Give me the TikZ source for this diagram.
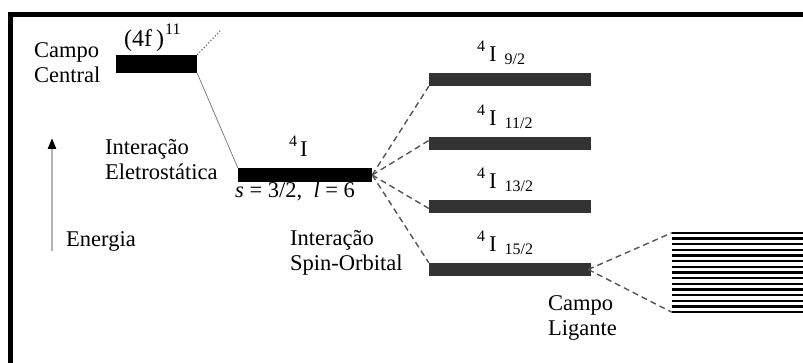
\documentclass[tikz,border=0pt]{standalone}
\usepackage{fontspec}
\setmainfont{Liberation Serif}
\usetikzlibrary{arrows.meta}
\definecolor{bargray}{HTML}{333333}
\definecolor{dashgray}{HTML}{555555}
\newcommand{\smallfnt}{\fontsize{16}{16}\selectfont}
\newcommand{\lvl}[1]{{\smallfnt\raisebox{10pt}{4}}\hspace{4pt}I\hspace{8pt}{\smallfnt\raisebox{-3pt}{#1}}}
\begin{document}
\begin{tikzpicture}[x=1pt,y=-1pt,
  lbl/.style={font=\fontsize{22.5}{25}\selectfont, inner sep=0pt, align=left},
  blackbar/.style={fill=black, draw=none, inner sep=0pt},
  graybar/.style={fill=bargray, draw=none, inner sep=0pt, minimum width=162pt, minimum height=13pt},
  dashline/.style={draw=dashgray, dashed, dash pattern=on 6pt off 4pt, line width=1.4pt}]
\useasboundingbox (0,0) rectangle (803,363);
\begin{scope}
\clip (0,0) rectangle (803,363);
\draw[line width=5pt] (10.5,14.5) rectangle (840,400);
\end{scope}

% bars
\node[blackbar, minimum width=81pt, minimum height=18pt] (b0) at (156.5,64) {};
\node[blackbar, minimum width=134pt, minimum height=14pt] (b1) at (305,175) {};
\node[graybar] (b92) at (510,79.5) {};
\node[graybar] (b112) at (510,143.5) {};
\node[graybar] (b132) at (510,206.5) {};
\node[graybar] (b152) at (510,269.5) {};

% Stark sublevels
\node[inner sep=0pt, minimum width=131pt, minimum height=79pt] (stark) at (737.5,272.5) {};
\foreach \i in {0,...,14} {
  \draw[line width=2.4pt] (672,{233+\i*79/14}) -- (803,{233+\i*79/14});
}

% connectors
\coordinate (up) at (220,31);
\draw[gray!80!black, dotted, line width=1.2pt] (b0.north east) -- (up);
\draw[gray, line width=0.8pt] (b0.south east) -- (b1.north west);
\draw[dashline] (b1.east) -- (b92.south west);
\draw[dashline] (b1.east) -- ([yshift=3pt]b112.west);
\draw[dashline] (b1.east) -- ([yshift=-2pt]b132.west);
\draw[dashline] (b1.east) -- (b152.north west);
\draw[dashline] ([xshift=-3pt]b152.east) -- (stark.north west);
\draw[dashline] ([xshift=-3pt]b152.east) -- (stark.south west);

% energy arrow
\coordinate (ea) at (52,251);
\coordinate (eb) at (52,138);
\draw[line width=2.5pt, gray!60, -{Triangle[color=black, length=11pt, width=8pt]}] (ea) -- (eb);

% labels
\node[lbl, anchor=west] (cc) at (34,62.5) {Campo\\Central};
\node[lbl, anchor=base west, font=\fontsize{24}{25}\selectfont] (f11) at (124,47) {(4f\,)\hspace{1pt}{\smallfnt\raisebox{12pt}{11}}};
\node[lbl, anchor=west] (ie) at (105,160) {Interação\\Eletrostática};
\node[lbl, anchor=west] (en) at (66,241) {Energia};
\node[lbl, anchor=base west] (l4i) at (289,157) {{\smallfnt\raisebox{10pt}{4}}\hspace{3pt}I};
\node[lbl, anchor=base west] (sl) at (235,198) {\textit{s} = 3/2,\ \ \textit{l} = 6};
\node[lbl, anchor=west] (iso) at (290,252.5) {Interação\\Spin-Orbital};
\node[lbl, anchor=west] (cl) at (548,317.5) {Campo\\Ligante};

\node[lbl, anchor=base west] (t92) at (477,62) {\lvl{9/2}};
\node[lbl, anchor=base west] (t112) at (477,126) {\lvl{11/2}};
\node[lbl, anchor=base west] (t132) at (477,189) {\lvl{13/2}};
\node[lbl, anchor=base west] (t152) at (477,252) {\lvl{15/2}};
\end{tikzpicture}
\end{document}
